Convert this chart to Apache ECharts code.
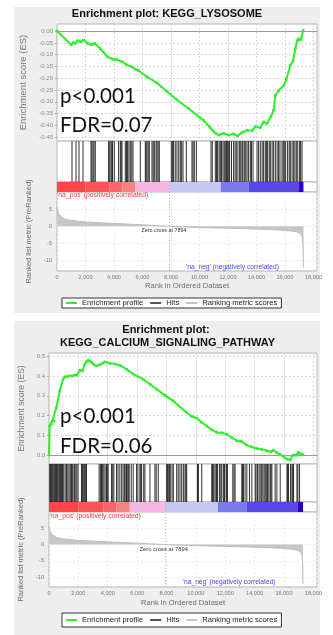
<!DOCTYPE html>
<html>
<head>
<meta charset="utf-8">
<title>Enrichment plots</title>
<script src="https://cdn.jsdelivr.net/npm/echarts@6.0.0/dist/echarts.min.js"></script>
<style>
    html, body { margin: 0; padding: 0; background: #fff; }
    #chart { width: 333px; height: 635px; }
</style>
</head>
<body>
<div id="chart"></div>
<script>
/*数据*/
var rankMax = 18250;

var lysosomeES = [
    [0, 0], [1000, -0.058], [1150, -0.048], [1300, -0.052], [1450, -0.040], [1640, -0.046], [1870, -0.038],
    [2150, -0.052], [2400, -0.058], [2640, -0.052], [3050, -0.075], [3550, -0.110], [3800, -0.116],
    [3980, -0.121], [4200, -0.121], [4560, -0.130], [4900, -0.143], [5200, -0.150], [5500, -0.161],
    [5730, -0.168], [6320, -0.194], [7020, -0.220], [7720, -0.256], [8420, -0.291], [9240, -0.328],
    [10060, -0.368], [10290, -0.379], [10760, -0.410], [11100, -0.432], [11350, -0.441], [11700, -0.433],
    [12050, -0.441], [12400, -0.436], [12680, -0.445], [12920, -0.432], [13100, -0.427], [13340, -0.420],
    [13700, -0.422], [13920, -0.405], [14270, -0.410], [14500, -0.385], [14740, -0.392], [15020, -0.362],
    [15200, -0.336], [15330, -0.272], [15560, -0.252], [15900, -0.232], [16100, -0.205], [16380, -0.145],
    [16570, -0.128], [16730, -0.075], [16850, -0.040], [16960, -0.032], [17130, -0.036], [17280, 0.003]
];
var lysosomeHits = [
    1053, 1334, 1544, 1825, 2387, 2450, 2527, 2600, 2689, 3622, 3700, 3791, 3850, 3903, 4022, 4324,
    4444, 4500, 4563, 4795, 4880, 4956, 5050, 5146, 5250, 5335, 5848, 6199, 6250, 6318, 6400, 6479,
    6669, 6750, 6830, 6950, 7020, 7100, 7181, 8024, 8100, 8185, 8300, 8424, 8550, 8656, 8750, 8845,
    9077, 9477, 9550, 9638, 9779, 10811, 10900, 11113, 11200, 11274, 11380, 11464, 11550, 11653, 11740,
    11815, 11900, 11976, 12050, 12117, 12250, 12397, 12500, 12587, 12700, 12819, 12900, 12987, 13050,
    13148, 13250, 13338, 13450, 13570, 13650, 13759, 14040, 14150, 14272, 14400, 14503, 14623, 14700,
    14784, 14900, 14974, 15100, 15205, 15325, 15450, 15556, 15650, 15795, 15880, 15957, 16050, 16188,
    16300, 16378, 16500, 16610, 16700, 16799, 16900, 17031, 17100, 17199
];
var calciumES = [
    [0, 0], [48, 0.147], [160, 0.156], [230, 0.173], [340, 0.172], [500, 0.240], [730, 0.325], [955, 0.384],
    [1070, 0.396], [1250, 0.398], [1410, 0.401], [1600, 0.400], [1750, 0.406], [1900, 0.404], [2095, 0.430],
    [2280, 0.426], [2440, 0.460], [2560, 0.474], [2660, 0.481], [2790, 0.476], [2890, 0.469], [3050, 0.458],
    [3235, 0.452], [3460, 0.457], [3650, 0.466], [3800, 0.472], [4140, 0.465], [4500, 0.461], [4825, 0.455],
    [5280, 0.435], [5735, 0.410], [6415, 0.384], [6900, 0.357], [7330, 0.333], [7900, 0.302], [8460, 0.274],
    [9375, 0.215], [9700, 0.196], [10060, 0.187], [10400, 0.165], [10740, 0.147], [11100, 0.127],
    [11425, 0.114], [11800, 0.112], [12110, 0.105], [12450, 0.088], [12790, 0.072], [13130, 0.068],
    [13470, 0.050], [13800, 0.040], [14155, 0.033], [14500, 0.028], [14840, 0.021], [15100, 0.016],
    [15290, 0.024], [15500, 0.012], [15745, 0.002], [16000, -0.010], [16200, -0.021], [16430, -0.026],
    [16560, -0.004], [16700, 0.000], [16840, -0.002], [16960, 0.013], [17060, 0.007], [17160, 0.004],
    [17300, 0.001]
];
var calciumHits = [
    48, 100, 164, 220, 273, 330, 389, 450, 505, 560, 614, 680, 730, 790, 846, 920, 1003, 1100, 1188,
    1280, 1365, 1450, 1529, 1580, 1638, 1730, 1822, 1900, 1979, 2211, 2270, 2320, 2380, 2437, 2500,
    2553, 3413, 3500, 3576, 3650, 3733, 3820, 3918, 3970, 4027, 4259, 4340, 4416, 4600, 4700, 4825,
    4950, 5050, 5150, 5235, 5280, 5323, 5400, 5460, 5600, 5733, 5965, 6050, 6190, 6250, 6306, 6450,
    6531, 6873, 7214, 7300, 7439, 8013, 8060, 8122, 8200, 8258, 8380, 8463, 8695, 8800, 8920, 9036,
    9150, 9262, 9320, 9378, 10101, 10140, 10169, 10401, 11084, 11140, 11193, 11300, 11377, 11420,
    11466, 11603, 11700, 11766, 11876, 11950, 12060, 12100, 12149, 12517, 12600, 12674, 13131, 13180,
    13240, 13350, 13472, 13650, 13814, 14039, 14100, 14196, 14300, 14380, 14480, 14565, 14650, 14722,
    14800, 14879, 14970, 15064, 15120, 15179, 15400, 15520, 15745, 16203, 16250, 16312, 16450, 16544,
    16600, 16653, 16885, 16950, 17063
];
// 两张图用的是同一个排序列表
var rankedMetric = [
    [0, 5.6], [40, 4.6], [100, 3.8], [200, 3.1], [320, 2.6], [500, 2.2], [750, 1.9], [1000, 1.75],
    [1500, 1.5], [2000, 1.3], [3000, 1.05], [4000, 0.85], [5000, 0.65], [6000, 0.45], [7000, 0.22],
    [7894, 0], [9000, -0.2], [10000, -0.33], [11000, -0.45], [12000, -0.55], [13000, -0.66],
    [14000, -0.8], [15000, -0.95], [15800, -1.12], [16400, -1.35], [16800, -1.6], [17000, -1.9],
    [17150, -2.4], [17230, -3.4], [17270, -5.5], [17300, -12]
];
var zeroCross = 7894;
var bandEdges = [0, 2000, 3700, 4600, 5500, 7894, 11500, 13450, 16950, 17300];
var lysosomeESTicks = [0, -0.05, -0.1, -0.15, -0.2, -0.25, -0.3, -0.35, -0.4, -0.45];
var calciumESTicks = [0, 0.1, 0.2, 0.3, 0.4, 0.5];
var metricTicks = [5, 0, -5, -10];

var bandColors = ['#ff4646', '#ff5454', '#fb6868', '#f48484', '#f7b6e4', '#c6c6f8', '#7a7af0', '#5846e6', '#2a00c4'];
var green = '#2cf02c';
var font = 'Liberation Sans, Arial, sans-serif';

var bands = [];
bandEdges.forEach(function (e, i) {
    if (i > 0) bands.push([bandEdges[i - 1], e]);
});

var panels = [
    {
        es: lysosomeES, hits: lysosomeHits, esTicks: lysosomeESTicks, esDigits: 2,
        esMin: -0.466, esMax: 0.03,
        left: 57, width: 260, top: 24, heights: [117, 41, 10, 79],
        esNameGap: 27, esNameSize: 9.5, rankNameGap: 18, xNameGap: 11,
        legendTop: 298, legendPad: [1, 4]
    },
    {
        es: calciumES, hits: calciumHits, esTicks: calciumESTicks, esDigits: 1,
        esMin: -0.046, esMax: 0.517,
        left: 49, width: 268, top: 353, heights: [111, 38, 10, 75],
        esNameGap: 20, esNameSize: 8.6, rankNameGap: 16, xNameGap: 12,
        legendTop: 613, legendPad: [3, 4]
    }
];

var option = {
    animation: false,
    textStyle: {fontFamily: font},
    grid: [], xAxis: [], yAxis: [], series: [], legend: [],
    graphic: []
};

var dotted = {color: '#d6d6d6', type: [2, 2], width: 1};

panels.forEach(function (p, k) {
    var g = k * 4;
    var y = p.top;
    p.heights.forEach(function (h, i) {
        option.grid.push({
            left: p.left, top: y, width: p.width, height: h,
            show: true, backgroundColor: '#fff', borderColor: '#b4b4b4', borderWidth: 1
        });
        y += h;
    });

    /*ES*/
    option.xAxis.push({
        type: 'value', gridIndex: g, min: 0, max: rankMax, interval: 2000,
        axisLabel: {show: false}, axisTick: {show: false},
        axisLine: {onZero: true, lineStyle: {color: '#9a9a9a'}},
        splitLine: {show: true, lineStyle: dotted}
    });
    option.yAxis.push({
        type: 'value', gridIndex: g, min: p.esMin, max: p.esMax,
        name: 'Enrichment score (ES)', nameLocation: 'middle', nameGap: p.esNameGap,
        nameTextStyle: {color: '#7a7a7a', fontSize: p.esNameSize},
        axisLine: {show: false},
        axisTick: {show: true, length: 2, customValues: p.esTicks, lineStyle: {color: '#aaa'}},
        axisLabel: {
            customValues: p.esTicks, fontSize: 6, color: '#8a8a8a', margin: 4,
            formatter: function (v) { return v.toFixed(p.esDigits); }
        },
        splitLine: {show: true, lineStyle: dotted}
    });
    /*hits 和 色条*/
    [1, 2].forEach(function (i) {
        option.xAxis.push({type: 'value', gridIndex: g + i, min: 0, max: rankMax, show: false});
        option.yAxis.push({type: 'value', gridIndex: g + i, min: 0, max: 1, show: false});
    });
    /*排序指标*/
    option.xAxis.push({
        type: 'value', gridIndex: g + 3, min: 0, max: rankMax, interval: 2000,
        name: 'Rank in Ordered Dataset', nameLocation: 'middle', nameGap: p.xNameGap,
        nameTextStyle: {color: '#6a6a6a', fontSize: 7.6},
        axisLine: {show: false, onZero: false}, axisTick: {show: false},
        axisLabel: {
            fontSize: 5.6, color: '#777', margin: 3,
            formatter: function (v) { return v.toLocaleString('en-US'); }
        },
        splitLine: {show: true, lineStyle: {color: '#ececec', type: [2, 2]}}
    });
    option.yAxis.push({
        type: 'value', gridIndex: g + 3, min: -13, max: 10,
        name: 'Ranked list metric (PreRanked)', nameLocation: 'middle', nameGap: p.rankNameGap,
        nameTextStyle: {color: '#6a6a6a', fontSize: 7.5},
        axisLine: {show: false},
        axisTick: {show: false, customValues: metricTicks},
        axisLabel: {customValues: metricTicks, fontSize: 5.6, color: '#777', margin: 5},
        splitLine: {show: true, lineStyle: {color: '#ececec', type: [2, 2]}}
    });

    var zeroLine = {
        silent: true, symbol: 'none', label: {show: false},
        lineStyle: {color: '#b8b8b8', type: [1, 2], width: 1},
        data: [{xAxis: zeroCross}]
    };

    option.series.push({
        name: 'Enrichment profile', type: 'line', xAxisIndex: g, yAxisIndex: g,
        data: p.es, symbol: 'rect', symbolSize: 2.5, showAllSymbol: true,
        lineStyle: {color: green, width: 2}, itemStyle: {color: green}, z: 5
    });
    option.series.push({
        name: 'Hits', type: 'custom', xAxisIndex: g + 1, yAxisIndex: g + 1,
        data: p.hits.map(function (r) { return [r, 0]; }),
        encode: {x: 0, y: 1},
        itemStyle: {color: '#555'},
        renderItem: function (params, api) {
            var cs = params.coordSys;
            var x = api.coord([api.value(0), 0])[0];
            return {
                type: 'line',
                shape: {x1: x, y1: cs.y, x2: x, y2: cs.y + cs.height},
                style: {stroke: '#1a1a1a', lineWidth: 1, opacity: 0.9}
            };
        }
    });
    option.series.push({
        name: 'band', type: 'custom', xAxisIndex: g + 2, yAxisIndex: g + 2,
        data: bands, encode: {x: [0, 1]},
        renderItem: function (params, api) {
            var cs = params.coordSys;
            var x0 = api.coord([api.value(0), 0])[0];
            var x1 = api.coord([api.value(1), 0])[0];
            return {
                type: 'rect',
                shape: {x: x0, y: cs.y, width: x1 - x0, height: cs.height},
                style: {fill: bandColors[params.dataIndex]}
            };
        },
        markLine: zeroLine
    });
    option.series.push({
        name: 'Ranking metric scores', type: 'line', xAxisIndex: g + 3, yAxisIndex: g + 3,
        data: rankedMetric, symbol: 'none',
        lineStyle: {color: '#bdbdbd', width: 1}, itemStyle: {color: '#c4c4c4'},
        areaStyle: {color: '#c6c6c6', opacity: 1},
        markLine: zeroLine
    });

    option.legend.push({
        left: 62, top: p.legendTop, padding: p.legendPad, itemGap: 7,
        itemWidth: 11, itemHeight: 2, selectedMode: false,
        backgroundColor: '#fff', borderColor: '#333', borderWidth: 1, borderRadius: 0,
        textStyle: {fontSize: 7.6, color: '#222'},
        data: [
            {name: 'Enrichment profile', icon: 'rect'},
            {name: 'Hits', icon: 'rect'},
            {name: 'Ranking metric scores', icon: 'rect'}
        ]
    });
});

/*背景和文字*/
function txt(s, x, y, size, opts) {
    opts = opts || {};
    return {
        type: 'text', x: x, y: y, z: 100, silent: true,
        style: {
            text: s, fontSize: size, fontFamily: opts.family || font, fontWeight: opts.weight || 'normal',
            fill: opts.color || '#222', textAlign: opts.align || 'left', textVerticalAlign: 'middle'
        }
    };
}
option.graphic = [
    {type: 'rect', z: -1, silent: true, shape: {x: 14, y: 7, width: 306, height: 306}, style: {fill: '#eeeeee'}},
    {type: 'rect', z: -1, silent: true, shape: {x: 14, y: 321, width: 306, height: 314}, style: {fill: '#eeeeee'}},
    txt('Enrichment plot: KEGG_LYSOSOME', 167, 14, 11, {weight: 'bold', align: 'center', color: '#111'}),
    txt('Enrichment plot:', 166, 330, 11, {weight: 'bold', align: 'center', color: '#111'}),
    txt('KEGG_CALCIUM_SIGNALING_PATHWAY', 167.5, 343, 11, {weight: 'bold', align: 'center', color: '#111'}),
    txt('p<0.001', 60, 96, 20.5, {family: 'Lato', color: '#111'}),
    txt('FDR=0.07', 60, 125, 20.5, {family: 'Lato', color: '#111'}),
    txt('p<0.001', 60, 416, 20.5, {family: 'Lato', color: '#111'}),
    txt('FDR=0.06', 60, 446, 20.5, {family: 'Lato', color: '#111'}),
    txt("'na_pos' (positively correlated)", 57, 195.5, 6.8, {color: '#f03c3c'}),
    txt("'na_pos' (positively correlated)", 49.5, 515.7, 6.8, {color: '#f03c3c'}),
    txt("'na_neg' (negatively correlated)", 186, 267, 6.7, {color: '#4646ff'}),
    txt("'na_neg' (negatively correlated)", 182.7, 581.7, 6.7, {color: '#4646ff'}),
    txt('Zero cross at 7894', 164, 231, 5.4, {align: 'center', color: '#333'}),
    txt('Zero cross at 7894', 163.7, 549.3, 5.8, {align: 'center', color: '#333'})
];

var myChart = echarts.init(document.getElementById('chart'));
myChart.setOption(option);
</script>
</body>
</html>
